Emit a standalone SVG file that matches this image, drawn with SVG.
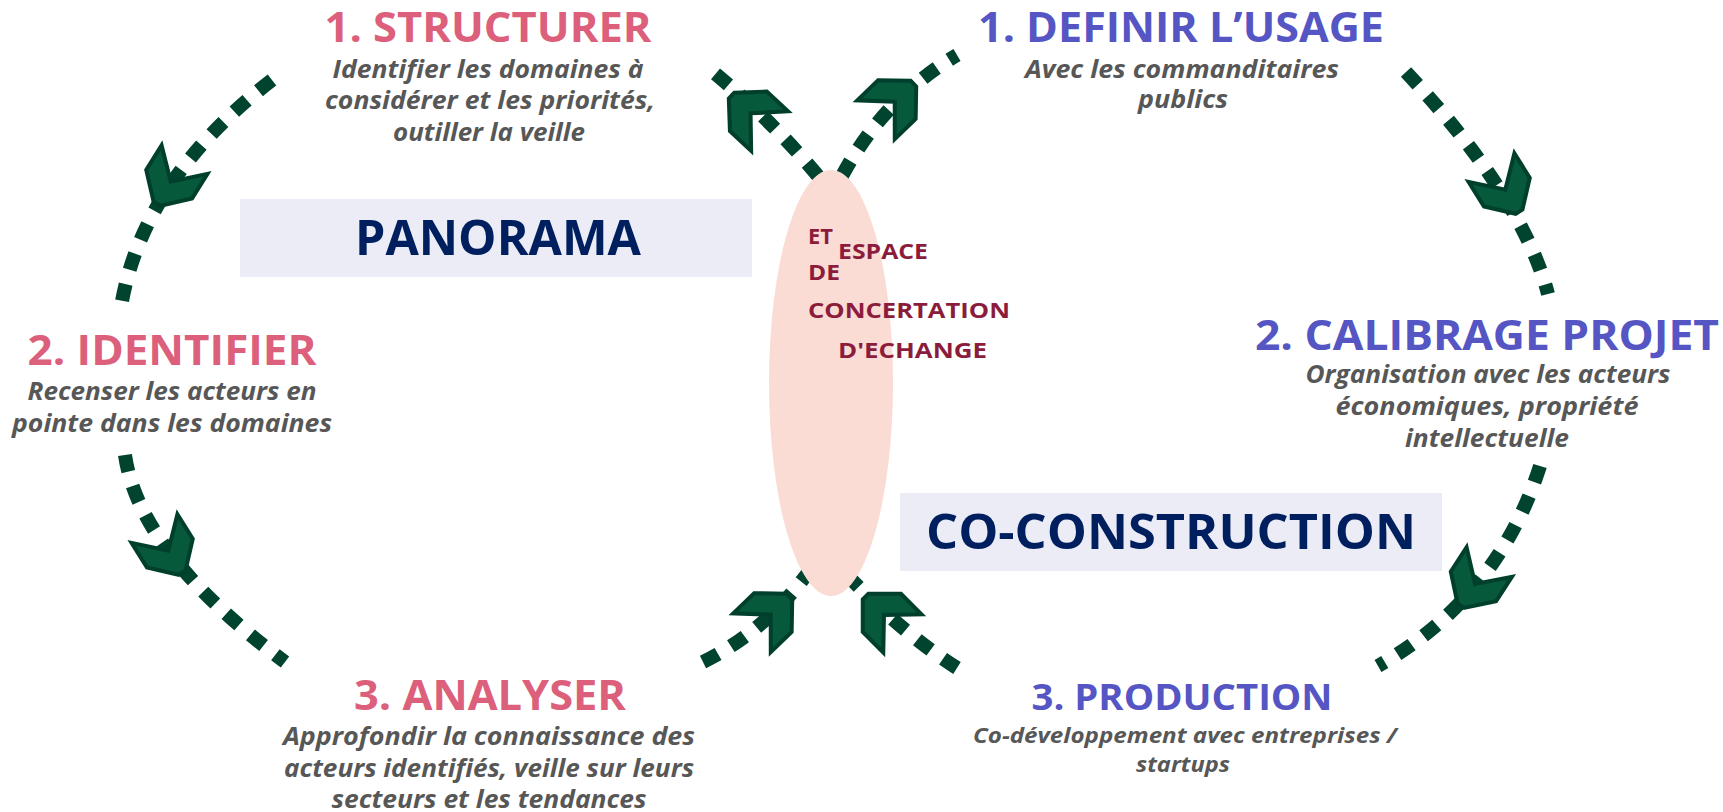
<svg xmlns="http://www.w3.org/2000/svg" width="1723" height="812" viewBox="0 0 1723 812">
<defs>
<style>
.t{font-family:"Open Sans","Liberation Sans",Arial,sans-serif;font-weight:700;text-anchor:middle}
.pk{fill:#dc5f7b;font-size:42px}
.bl{fill:#5555c4;font-size:42px}
.d{fill:#575757;font-style:italic;font-size:25px}
.big{fill:#001f5f;font-size:48px}
.el{fill:#8c1c3c;font-size:22px;text-anchor:start}
.c{fill:none;stroke:#00432f;stroke-width:14;stroke-dasharray:17 15}
.ah{fill:#07593b;stroke:#003f2b;stroke-width:4;stroke-linejoin:miter}
</style>
<path id="chev" d="M2,-4 L-21,-27 L-50,-27 L-24,0 L-50,27 L-21,27 L2,4 Z"/>
</defs>
<rect width="1723" height="812" fill="#ffffff"/>

<g id="connectors">
<path class="c" d="M272,80 Q142,180 121,307"/>
<path class="c" d="M125,455 Q139,553 285,662"/>
<path class="c" d="M703,662 Q766,631 810,570"/>
<path class="c" d="M818,176 Q770,118 706,66"/>
<path class="c" d="M842,176 Q884,98 957,55"/>
<path class="c" d="M1406,72 Q1522,196 1548,294"/>
<path class="c" d="M1540,466 Q1498,598 1378,666"/>
<path class="c" d="M957,668 Q905,635 850,578"/>
<use href="#chev" class="ah" transform="translate(158,202) rotate(122)"/>
<use href="#chev" class="ah" transform="translate(181,571) rotate(58)"/>
<use href="#chev" class="ah" transform="translate(788,598) rotate(-44)"/>
<use href="#chev" class="ah" transform="translate(733,97) rotate(-137)"/>
<use href="#chev" class="ah" transform="translate(912,85) rotate(-44)"/>
<use href="#chev" class="ah" transform="translate(1518,210) rotate(58)"/>
<use href="#chev" class="ah" transform="translate(1462,604) rotate(123)"/>
<use href="#chev" class="ah" transform="translate(867,598) rotate(-135)"/>
</g>

<g id="espace">
<ellipse cx="831" cy="383" rx="62" ry="213" fill="#fadcd5"/>
<text class="t el" x="808" y="244" textLength="25" lengthAdjust="spacingAndGlyphs">ET</text>
<text class="t el" x="838" y="259" textLength="90" lengthAdjust="spacingAndGlyphs">ESPACE</text>
<text class="t el" x="808" y="280" textLength="32" lengthAdjust="spacingAndGlyphs">DE</text>
<text class="t el" x="808" y="318" textLength="202" lengthAdjust="spacingAndGlyphs">CONCERTATION</text>
<text class="t el" x="838" y="358" textLength="149" lengthAdjust="spacingAndGlyphs">D'ECHANGE</text>
</g>

<g id="panorama">
<rect x="240" y="199" width="512" height="78" fill="#ececf7"/>
<text class="t big" x="498" y="255" textLength="286" lengthAdjust="spacingAndGlyphs">PANORAMA</text>
</g>

<g id="coconstruction">
<rect x="900" y="493" width="542" height="78" fill="#ececf7"/>
<text class="t big" x="1171" y="549" textLength="490" lengthAdjust="spacingAndGlyphs">CO-CONSTRUCTION</text>
</g>

<g id="structurer">
<text class="t pk" x="488" y="42" textLength="327" lengthAdjust="spacingAndGlyphs">1. STRUCTURER</text>
<text class="t d" x="488" y="78" textLength="311" lengthAdjust="spacingAndGlyphs">Identifier les domaines à</text>
<text class="t d" x="490" y="109" textLength="330" lengthAdjust="spacingAndGlyphs">considérer et les priorités,</text>
<text class="t d" x="489" y="141" textLength="192" lengthAdjust="spacingAndGlyphs">outiller la veille</text>
</g>

<g id="identifier">
<text class="t pk" x="172" y="365" textLength="289" lengthAdjust="spacingAndGlyphs">2. IDENTIFIER</text>
<text class="t d" x="172" y="400" textLength="289" lengthAdjust="spacingAndGlyphs">Recenser les acteurs en</text>
<text class="t d" x="172" y="432" textLength="320" lengthAdjust="spacingAndGlyphs">pointe dans les domaines</text>
</g>

<g id="analyser">
<text class="t pk" x="490" y="710" textLength="272" lengthAdjust="spacingAndGlyphs">3. ANALYSER</text>
<text class="t d" x="489" y="745" textLength="412" lengthAdjust="spacingAndGlyphs">Approfondir la connaissance des</text>
<text class="t d" x="489" y="777" textLength="410" lengthAdjust="spacingAndGlyphs">acteurs identifiés, veille sur leurs</text>
<text class="t d" x="489" y="808" textLength="315" lengthAdjust="spacingAndGlyphs">secteurs et les tendances</text>
</g>

<g id="definir">
<text class="t bl" x="1181" y="42" textLength="406" lengthAdjust="spacingAndGlyphs">1. DEFINIR L’USAGE</text>
<text class="t d" x="1182" y="78" textLength="314" lengthAdjust="spacingAndGlyphs">Avec les commanditaires</text>
<text class="t d" x="1183" y="108" textLength="90" lengthAdjust="spacingAndGlyphs">publics</text>
</g>

<g id="calibrage">
<text class="t bl" x="1487" y="350" textLength="464" lengthAdjust="spacingAndGlyphs">2. CALIBRAGE PROJET</text>
<text class="t d" x="1488" y="383" textLength="365" lengthAdjust="spacingAndGlyphs">Organisation avec les acteurs</text>
<text class="t d" x="1487" y="415" textLength="303" lengthAdjust="spacingAndGlyphs">économiques, propriété</text>
<text class="t d" x="1487" y="447" textLength="164" lengthAdjust="spacingAndGlyphs">intellectuelle</text>
</g>

<g id="production">
<text class="t bl" x="1182" y="710" style="font-size:36px" textLength="301" lengthAdjust="spacingAndGlyphs">3. PRODUCTION</text>
<text class="t d" x="1185" y="743" style="font-size:21px" textLength="424" lengthAdjust="spacingAndGlyphs">Co-développement avec entreprises /</text>
<text class="t d" x="1183" y="772" style="font-size:21px" textLength="94" lengthAdjust="spacingAndGlyphs">startups</text>
</g>
</svg>
